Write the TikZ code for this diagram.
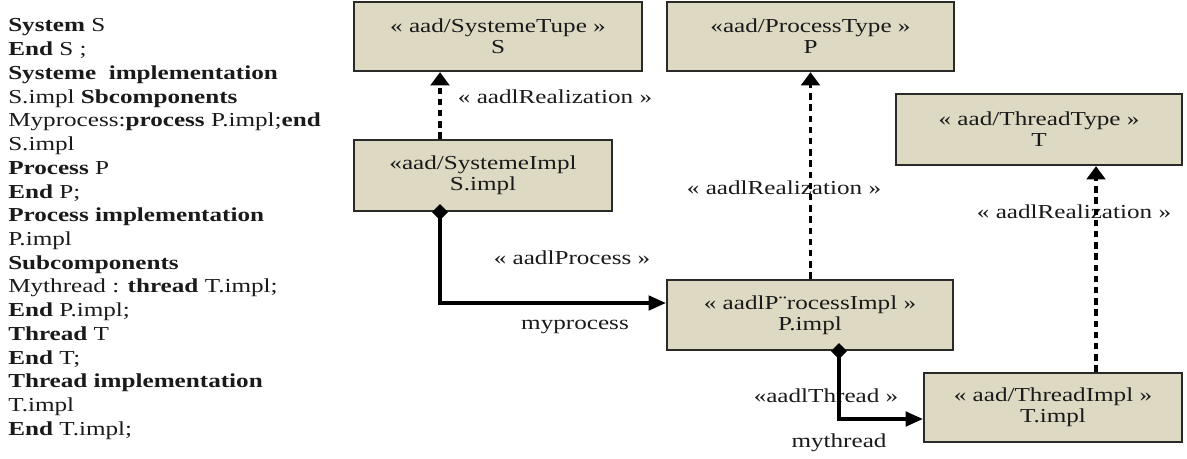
\documentclass[tikz,border=0pt]{standalone}
\usepackage{fontspec}
\setmainfont[FakeStretch=1.27]{Liberation Serif}
\usetikzlibrary{arrows.meta}
\definecolor{boxfill}{HTML}{DDD9C3}
\definecolor{boxline}{HTML}{2A2A2A}
\definecolor{ink}{HTML}{1A1A1A}
\newcommand\diafont{\fontsize{14.85pt}{15.75pt}\selectfont}
\newcommand\codefont{\fontsize{14.85pt}{17.8pt}\selectfont}
\begin{document}
\begin{tikzpicture}[x=0.75pt,y=-0.75pt,
  umlbox/.style={draw=boxline,line width=1.7pt,fill=boxfill,inner sep=0pt,align=center,font=\diafont,text=ink},
  lbl/.style={font=\diafont,text=ink,inner sep=0pt},
  real/.style={draw=black,line width=2.5pt,dash pattern=on 4.8pt off 3.6pt,-{Triangle[length=10pt,width=14pt]}},
  comp/.style={draw=black,line width=2.3pt,{Diamond[length=12pt,width=12pt]}-{Triangle[length=13pt,width=11pt]}}]
\useasboundingbox (0,0) rectangle (1187,458);

% code listing
\node[anchor=north west,inner sep=0pt,align=left,font=\codefont,text=ink] (code) at (8,18.5) {%
\textbf{System} S\\
\textbf{End} S ;\\
\textbf{Systeme\ \ implementation}\\
S.impl \textbf{Sbcomponents}\\
Myprocess:\textbf{process} P.impl;\textbf{end}\\
S.impl\\
\textbf{Process} P\\
\textbf{End} P;\\
\textbf{Process implementation}\\
P.impl\\
\textbf{Subcomponents}\\
Mythread : \textbf{thread} T.impl;\\
\textbf{End} P.impl;\\
\textbf{Thread} T\\
\textbf{End} T;\\
\textbf{Thread implementation}\\
T.impl\\
\textbf{End} T.impl;};

% boxes
\node[umlbox,minimum width=216pt,minimum height=51.75pt] (stype) at (498,36.5) {« aad/SystemeTupe »\\S};
\node[umlbox,minimum width=193.5pt,minimum height=53.25pt] (simpl) at (483,175.5) {«aad/SystemeImpl\\S.impl};
\node[umlbox,minimum width=215.25pt,minimum height=51.75pt] (ptype) at (810.5,36.5) {«aad/ProcessType »\\P};
\node[umlbox,minimum width=214.5pt,minimum height=53.25pt] (ttype) at (1039,129.5) {« aad/ThreadType »\\T};
\node[umlbox,minimum width=214.5pt,minimum height=52.5pt] (pimpl) at (810,315) {« aadlP¨rocessImpl »\\P.impl};
\node[umlbox,minimum width=193.5pt,minimum height=51.75pt] (timpl) at (1053,407.5) {« aad/ThreadImpl »\\T.impl};

% labels
\node[lbl] (l1) at (555,97) {« aadlRealization »};
\node[lbl] (l2) at (784,188) {« aadlRealization »};
\node[lbl] (l3) at (1074,212) {« aadlRealization »};
\node[lbl] (l4) at (572,258) {« aadlProcess »};
\node[lbl] (l5) at (575,327) {myprocess};
\node[lbl] (l6) at (826,396) {«aadlThread »};
\node[lbl] (l7) at (839,443) {mythread};

% helper coordinates
\coordinate (sx) at (440,0);
\coordinate (tx) at (1096,0);
\coordinate (px) at (839,0);
\coordinate (py) at (0,303);
\coordinate (ty) at (0,419);

% realizations
\draw[real] (simpl.north -| sx) -- (stype.south -| sx);
\draw[real] (pimpl.north -| ptype.south) -- (ptype.south);
\draw[real] (timpl.north -| tx) -- (ttype.south -| tx);

% compositions
\draw[comp] ([yshift=6pt]simpl.south -| sx) |- (pimpl.west |- py);
\draw[comp] ([yshift=6pt]pimpl.south -| px) |- (timpl.west |- ty);
\end{tikzpicture}
\end{document}
